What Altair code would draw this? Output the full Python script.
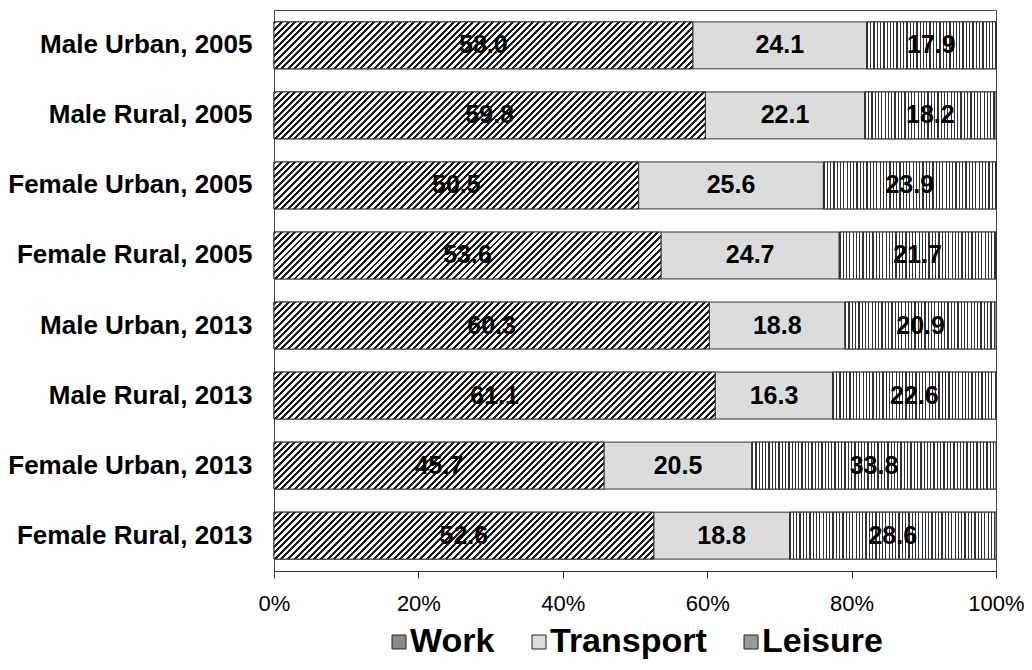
import altair as alt
import pandas as pd

groups = [
    "Male Urban, 2005", "Male Rural, 2005", "Female Urban, 2005", "Female Rural, 2005",
    "Male Urban, 2013", "Male Rural, 2013", "Female Urban, 2013", "Female Rural, 2013",
]
categories = ["Work", "Transport", "Leisure"]
work = [58.0, 59.8, 50.5, 53.6, 60.3, 61.1, 45.7, 52.6]
transport = [24.1, 22.1, 25.6, 24.7, 18.8, 16.3, 20.5, 18.8]
leisure = [17.9, 18.2, 23.9, 21.7, 20.9, 22.6, 33.8, 28.6]
tick_values = [0, 0.2, 0.4, 0.6, 0.8, 1.0]

FONT = "Liberation Sans, Arial, sans-serif"
PLOT_W = 722
PLOT_H = 561
PAD_IN = 0.33
PAD_OUT = 0.17
STEP = PLOT_H / (len(groups) - PAD_IN + 2 * PAD_OUT)
BAR_H = STEP * (1 - PAD_IN)

rows = []
for i, g in enumerate(groups):
    for j, (c, v) in enumerate(zip(categories, [work[i], transport[i], leisure[i]])):
        rows.append({"group": g, "cat": c, "value": v, "order": j})
df = pd.DataFrame(rows)


def hatch(W, H, period, frac, dark, light, diagonal):
    if diagonal:
        L = W + H
        x2 = (W + H) * W / (W * W + H * H)
        y2 = (W + H) * H / (W * W + H * H)
    else:
        L = W
        x2, y2 = 1, 0
    n = L / period
    stops = []
    k = 0
    while k / n < 1:
        a = round(k / n, 5)
        b = round(min((k + frac) / n, 1), 5)
        c = round(min((k + 1) / n, 1), 5)
        stops += [
            alt.GradientStop(color=dark, offset=a),
            alt.GradientStop(color=dark, offset=b),
            alt.GradientStop(color=light, offset=b),
            alt.GradientStop(color=light, offset=c),
        ]
        k += 1
    return alt.Gradient(gradient="linear", x1=0, y1=0, x2=x2, y2=y2, stops=stops)


base = (
    alt.Chart(df)
    .transform_joinaggregate(total="sum(value)", groupby=["group"])
    .transform_calculate(pct="datum.value / datum.total")
    .transform_stack(stack="pct", groupby=["group"], as_=["x0", "x1"],
                     sort=[alt.SortField("order", order="ascending")])
    .transform_calculate(mid="(datum.x0 + datum.x1) / 2")
)

y_enc = alt.Y(
    "group:N", sort=groups, title=None,
    scale=alt.Scale(paddingInner=PAD_IN, paddingOuter=PAD_OUT),
    axis=alt.Axis(domain=False, ticks=False, labelFontSize=26, labelFontWeight="bold",
                  labelFont=FONT, labelColor="black", labelPadding=22, labelLimit=400),
)
x_enc = alt.X(
    "x0:Q", title=None,
    scale=alt.Scale(domain=[0, 1], nice=False, zero=True),
    axis=alt.Axis(values=tick_values, format=".0%", tickSize=7, tickColor="#333",
                  domain=True, domainColor="#333", grid=False, labelFontSize=22,
                  labelFont=FONT, labelColor="black", labelPadding=15,
                  labelFlush=False, labelOverlap=False),
)
x2_enc = alt.X2("x1:Q")

bars = base.mark_bar(stroke="#333", strokeWidth=1).encode(
    x=x_enc, x2=x2_enc, y=y_enc,
    color=alt.Color(
        "cat:N",
        scale=alt.Scale(domain=categories, range=["#8a8a8a", "#dcdcdc", "#9a9a9a"]),
        legend=alt.Legend(
            orient="none", legendX=108, legendY=615, direction="horizontal", title=None,
            symbolType="square", symbolSize=196, symbolStrokeColor="#222",
            symbolStrokeWidth=1, labelFontSize=34, labelFontWeight="bold",
            labelFont=FONT, labelColor="black", columnPadding=27,
            labelOffset={"expr": "-6"},
            labelLimit=400, padding=0,
        ),
    ),
)

overlays = []
for i, g in enumerate(groups):
    total = work[i] + transport[i] + leisure[i]
    specs = [
        ("Work", hatch(work[i] / total * PLOT_W, BAR_H, 6.6, 0.45, "#1a1a1a", "#ffffff", True)),
        ("Leisure", hatch(leisure[i] / total * PLOT_W, BAR_H, 3.3, 0.38, "#333333", "#ffffff", False)),
    ]
    for cat, grad in specs:
        overlays.append(
            base.transform_filter((alt.datum.group == g) & (alt.datum.cat == cat))
            .mark_bar(fill=grad, stroke="#333", strokeWidth=1)
            .encode(x=x_enc, x2=x2_enc, y=y_enc)
        )

labels = base.mark_text(font=FONT, fontSize=25, fontWeight="bold", color="black").encode(
    x=alt.X("mid:Q"), y=y_enc, text=alt.Text("value:Q", format=".1f")
)

chart = (
    alt.layer(bars, *overlays, labels)
    .properties(
        width=PLOT_W, height=PLOT_H,
        padding={"left": 266, "top": 2, "right": 28, "bottom": 93},
        autosize=alt.AutoSizeParams(type="none"),
        background="white",
    )
    .configure_view(stroke="#444", strokeWidth=1)
)

chart.save("out.html", embed_options={"renderer": "svg", "actions": False})
